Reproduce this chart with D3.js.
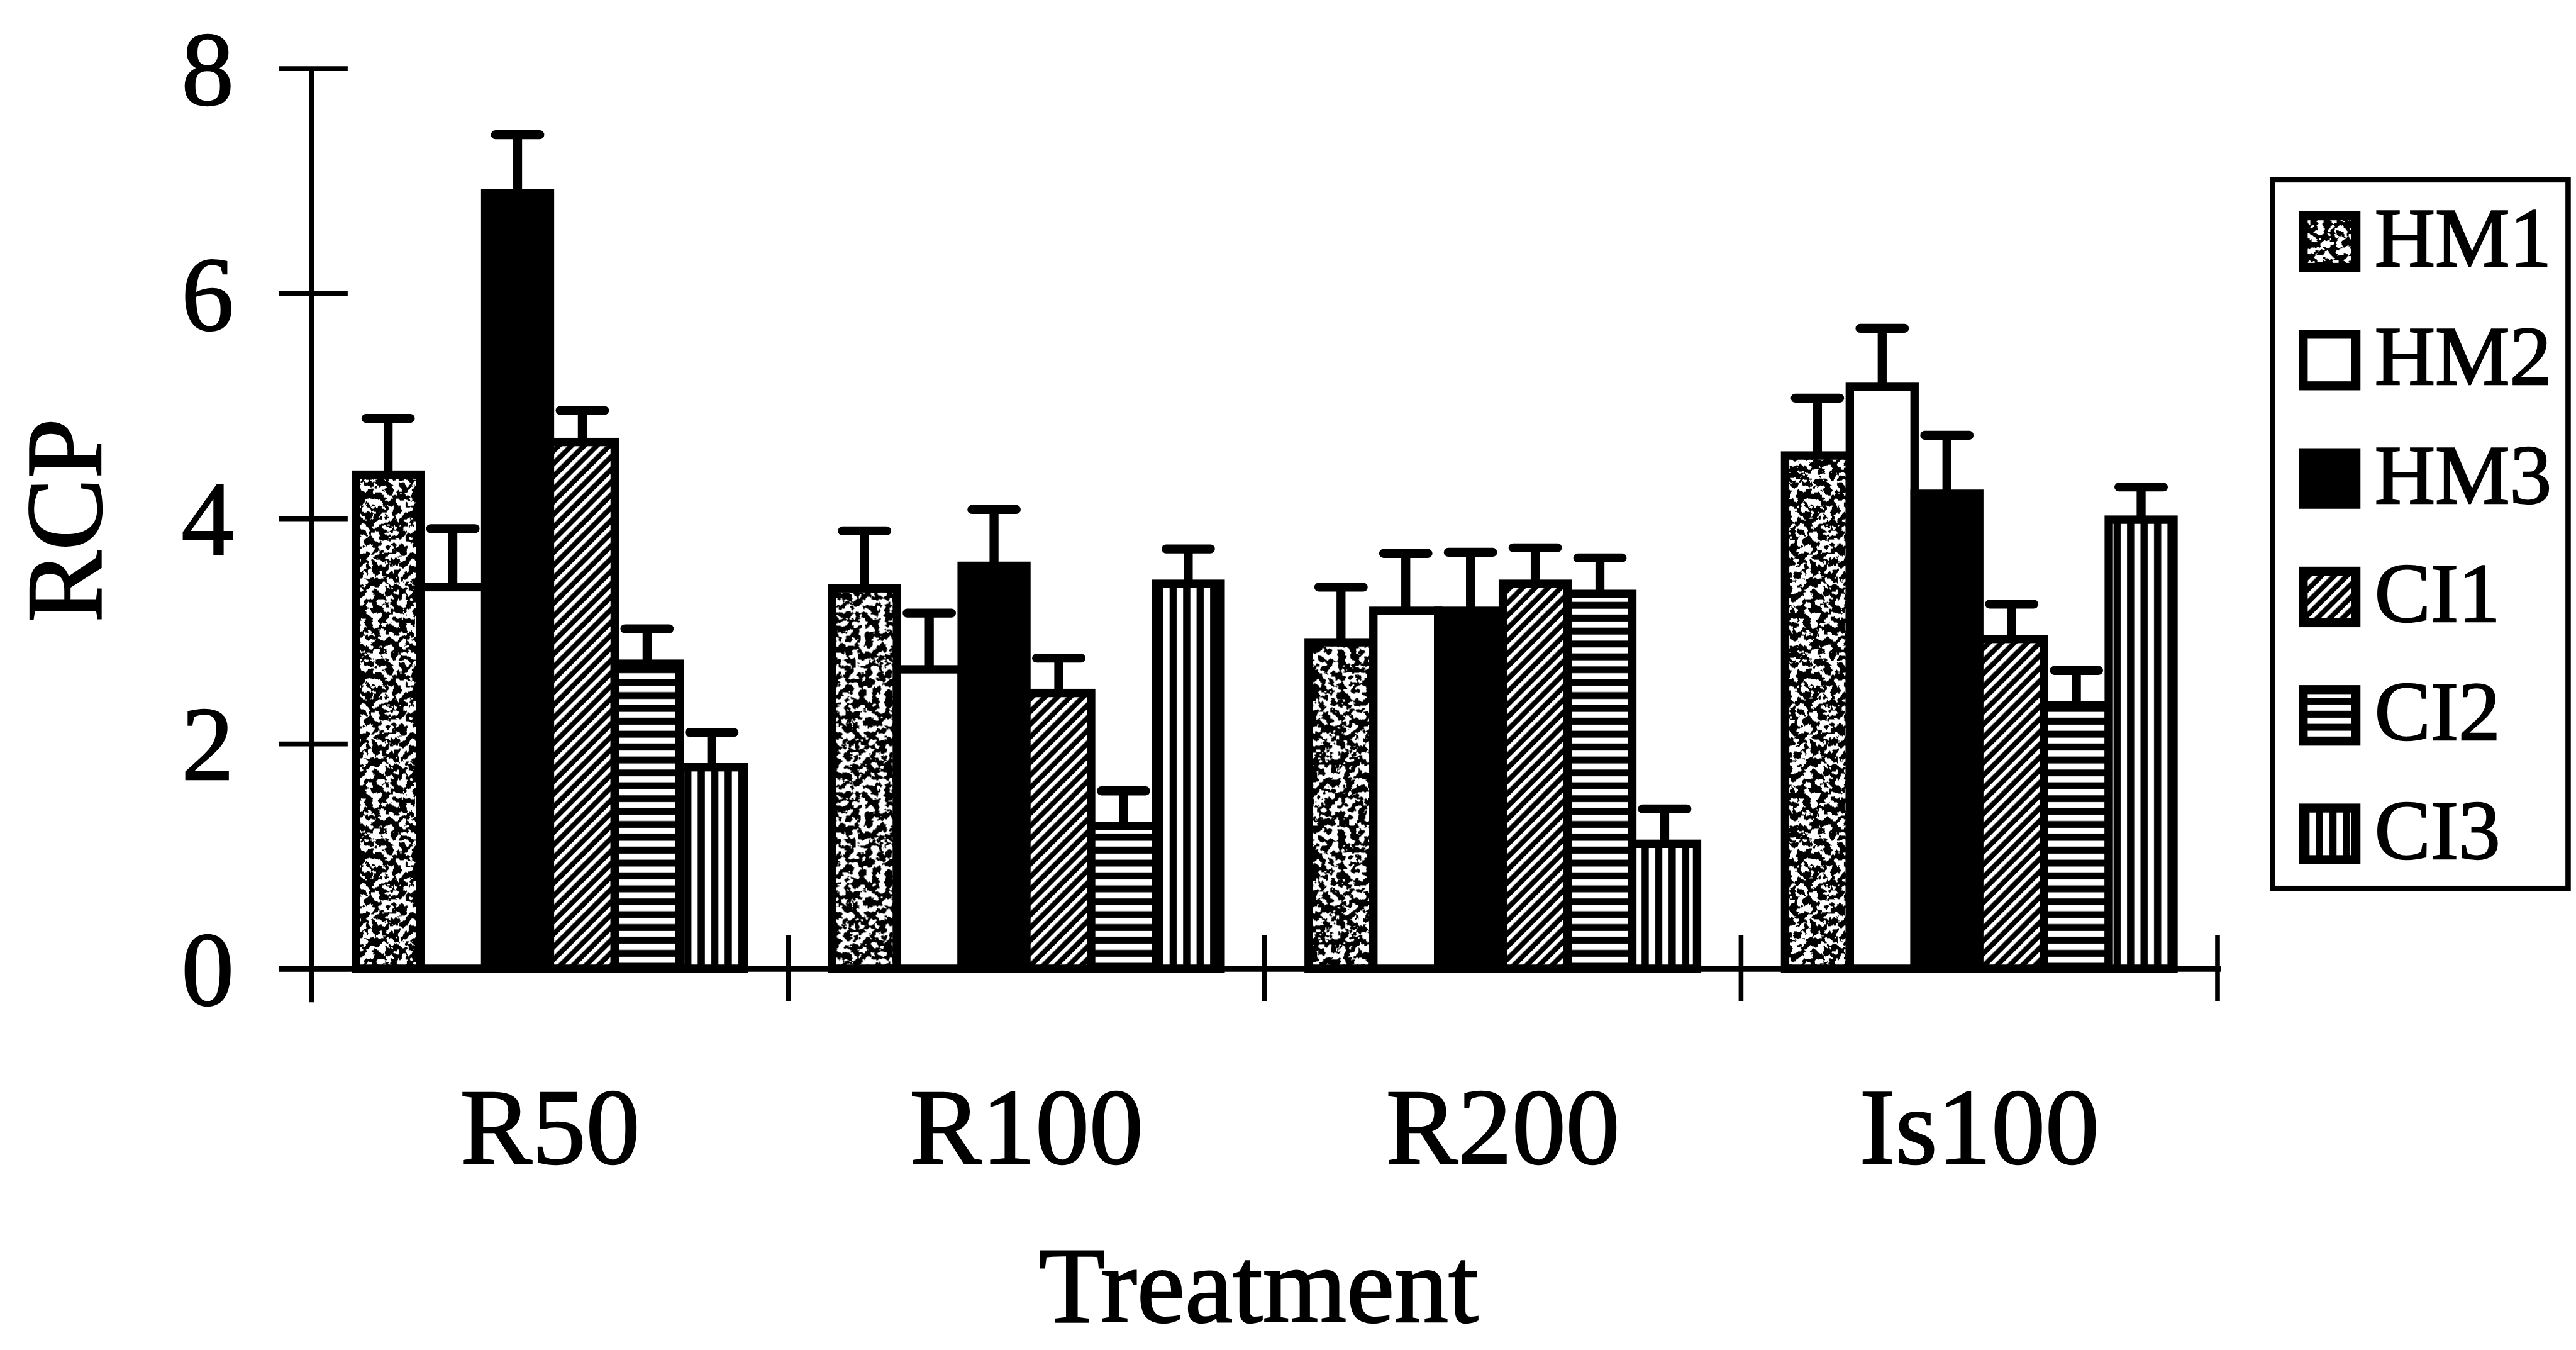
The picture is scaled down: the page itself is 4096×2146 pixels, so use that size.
<!DOCTYPE html>
<html>
<head>
<meta charset="utf-8">
<script src="https://cdn.jsdelivr.net/npm/d3@7"></script>
<style>
  html, body { margin: 0; padding: 0; background: #ffffff; }
  svg { display: block; }
  text { font-family: "Liberation Serif", "Times New Roman", serif; fill: #000; }
</style>
</head>
<body>
<script>
// ---- data ----
const categories = ["R50", "R100", "R200", "Is100"];
const seriesNames = ["HM1", "HM2", "HM3", "CI1", "CI2", "CI3"];
const HM1 = [4.39, 3.38, 2.90, 4.56];
const HM2 = [3.39, 2.66, 3.18, 5.17];
const HM3 = [6.89, 3.58, 3.18, 4.22];
const CI1 = [4.68, 2.45, 3.42, 2.93];
const CI2 = [2.71, 1.27, 3.33, 2.34];
const CI3 = [1.79, 3.42, 1.11, 3.99];
const HM1_err = [0.50, 0.51, 0.49, 0.51];
const HM2_err = [0.52, 0.50, 0.51, 0.52];
const HM3_err = [0.52, 0.50, 0.52, 0.52];
const CI1_err = [0.28, 0.31, 0.32, 0.31];
const CI2_err = [0.31, 0.31, 0.32, 0.31];
const CI3_err = [0.31, 0.31, 0.31, 0.29];
const yTicks = [0, 2, 4, 6, 8];
const yLabel = "RCP";
const xLabel = "Treatment";

const seriesValues = { HM1, HM2, HM3, CI1, CI2, CI3 };
const seriesErrors = { HM1: HM1_err, HM2: HM2_err, HM3: HM3_err, CI1: CI1_err, CI2: CI2_err, CI3: CI3_err };
const fills = { HM1: "url(#pHM1)", HM2: "#ffffff", HM3: "#000000", CI1: "url(#pCI1)", CI2: "url(#pCI2)", CI3: "url(#pCI3)" };

// ---- canvas: drawn in reference units, scaled by the viewBox to 0.953 ----
const W = 4298, H = 2252;
const svg = d3.select("body").append("svg")
  .attr("width", 4096).attr("height", 2146)
  .attr("viewBox", `0 0 ${W} ${H}`);

const defs = svg.append("defs");
// speckled (dithered grey) texture
const f = defs.append("filter").attr("id", "speckle")
  .attr("filterUnits", "userSpaceOnUse").attr("x", 0).attr("y", 0).attr("width", 300).attr("height", 300);
f.append("feTurbulence").attr("type", "fractalNoise").attr("baseFrequency", 0.09)
  .attr("numOctaves", 3).attr("seed", 11).attr("stitchTiles", "stitch").attr("result", "n");
f.append("feColorMatrix").attr("in", "n").attr("type", "matrix")
  .attr("values", "0 0 0 0 0  0 0 0 0 0  0 0 0 0 0  -3 0 0 0 2.05").attr("result", "a");
f.append("feComponentTransfer").attr("in", "a")
  .append("feFuncA").attr("type", "discrete").attr("tableValues", "0 1");
const pHM1 = defs.append("pattern").attr("id", "pHM1").attr("patternUnits", "userSpaceOnUse")
  .attr("width", 300).attr("height", 300);
pHM1.append("rect").attr("width", 300).attr("height", 300).attr("fill", "#fff");
pHM1.append("rect").attr("width", 300).attr("height", 300).attr("fill", "#000").attr("filter", "url(#speckle)");

// diagonal "/" white stripes on black
const pCI1 = defs.append("pattern").attr("id", "pCI1").attr("patternUnits", "userSpaceOnUse")
  .attr("width", 40).attr("height", 15).attr("patternTransform", "rotate(-45)");
pCI1.append("rect").attr("width", 40).attr("height", 15).attr("fill", "#000");
pCI1.append("rect").attr("y", 4).attr("width", 40).attr("height", 6.5).attr("fill", "#fff");

// horizontal white stripes on black
const pCI2 = defs.append("pattern").attr("id", "pCI2").attr("patternUnits", "userSpaceOnUse")
  .attr("width", 40).attr("height", 21.5);
pCI2.append("rect").attr("width", 40).attr("height", 21.5).attr("fill", "#000");
pCI2.append("rect").attr("y", 5).attr("width", 40).attr("height", 10).attr("fill", "#fff");

// vertical white stripes on black
const pCI3 = defs.append("pattern").attr("id", "pCI3").attr("patternUnits", "userSpaceOnUse")
  .attr("width", 22.5).attr("height", 40);
pCI3.append("rect").attr("width", 22.5).attr("height", 40).attr("fill", "#000");
pCI3.append("rect").attr("x", 6).attr("width", 10.5).attr("height", 40).attr("fill", "#fff");

// ---- scales ----
const x0 = d3.scaleBand().domain(categories).range([520, 3700]).paddingInner(0).paddingOuter(0);
const x1 = d3.scaleBand().domain(seriesNames).range([0, x0.bandwidth()]).paddingInner(0).paddingOuter(0.68);
const y = d3.scaleLinear().domain([0, 8]).range([1616, 114]);

const textStroke = sel => sel.attr("stroke", "#000").attr("stroke-width", 2.5);

// ---- bars ----
const rows = [];
categories.forEach((c, ci) => seriesNames.forEach(s => rows.push({ c, s, v: seriesValues[s][ci], e: seriesErrors[s][ci] })));

const gBars = svg.append("g");
gBars.selectAll("rect.bar").data(rows).join("rect").attr("class", "bar")
  .attr("x", d => x0(d.c) + x1(d.s))
  .attr("y", d => y(d.v))
  .attr("width", x1.bandwidth())
  .attr("height", d => y(0) - y(d.v))
  .attr("fill", d => fills[d.s])
  .attr("stroke", "#000").attr("stroke-width", 14);

// error bars (upper only)
const gErr = svg.append("g").attr("stroke", "#000");
gErr.selectAll("line.stem").data(rows).join("line").attr("class", "stem")
  .attr("x1", d => x0(d.c) + x1(d.s) + x1.bandwidth() / 2)
  .attr("x2", d => x0(d.c) + x1(d.s) + x1.bandwidth() / 2)
  .attr("y1", d => y(d.v)).attr("y2", d => y(d.v + d.e))
  .attr("stroke-width", 15);
gErr.selectAll("line.cap").data(rows).join("line").attr("class", "cap")
  .attr("x1", d => x0(d.c) + x1(d.s) + x1.bandwidth() / 2 - 37)
  .attr("x2", d => x0(d.c) + x1(d.s) + x1.bandwidth() / 2 + 37)
  .attr("y1", d => y(d.v + d.e)).attr("y2", d => y(d.v + d.e))
  .attr("stroke-width", 15).attr("stroke-linecap", "round");

// ---- y axis ----
const gy = svg.append("g").attr("transform", "translate(520,0)")
  .call(d3.axisLeft(y).tickValues(yTicks).tickSize(55).tickPadding(75).tickFormat(d3.format("d")));
gy.select(".domain").remove();
gy.selectAll(".tick line").attr("x1", 60).attr("x2", -55).attr("stroke", "#000").attr("stroke-width", 8);
gy.selectAll(".tick text").attr("font-size", 175).attr("font-family", "Liberation Serif, serif")
  .attr("dy", "0.34em").call(textStroke);
gy.append("line").attr("x1", 0).attr("x2", 0).attr("y1", y(8) - 2).attr("y2", 1672)
  .attr("stroke", "#000").attr("stroke-width", 8);

// ---- x axis ----
const gx = svg.append("g").attr("transform", `translate(0,${y(0)})`)
  .call(d3.axisBottom(x0).tickSize(0).tickPadding(0));
gx.select(".domain").remove();
gx.selectAll(".tick text").attr("y", 324).attr("dy", 0).attr("font-size", 180)
  .attr("font-family", "Liberation Serif, serif").call(textStroke);
gx.append("line").attr("x1", 465).attr("x2", 3706).attr("y1", 0).attr("y2", 0)
  .attr("stroke", "#000").attr("stroke-width", 10);
gx.selectAll("line.sep").data(categories).join("line").attr("class", "sep")
  .attr("x1", d => x0(d) + x0.bandwidth()).attr("x2", d => x0(d) + x0.bandwidth())
  .attr("y1", -56).attr("y2", 54).attr("stroke", "#000").attr("stroke-width", 8);

// ---- axis titles ----
svg.append("text").attr("transform", "translate(168,868) rotate(-90)")
  .attr("text-anchor", "middle").attr("font-size", 180).text(yLabel).call(textStroke);
svg.append("text").attr("x", 2100).attr("y", 2205)
  .attr("text-anchor", "middle").attr("font-size", 180).text(xLabel).call(textStroke);

// ---- legend ----
const lg = svg.append("g");
lg.append("rect").attr("x", 3792).attr("y", 300).attr("width", 493).attr("height", 1182)
  .attr("fill", "#fff").attr("stroke", "#000").attr("stroke-width", 9);
const ly = d3.scalePoint().domain(seriesNames).range([402, 1390]);
const items = lg.selectAll("g.item").data(seriesNames).join("g").attr("class", "item")
  .attr("transform", s => `translate(0,${ly(s)})`);
items.append("rect").attr("x", 3843).attr("y", -42).attr("width", 88).attr("height", 86)
  .attr("fill", s => fills[s]).attr("stroke", "#000").attr("stroke-width", 15);
items.append("text").attr("x", 3962).attr("y", 42).attr("font-size", 140)
  .text(s => s).call(textStroke);
</script>
</body>
</html>
